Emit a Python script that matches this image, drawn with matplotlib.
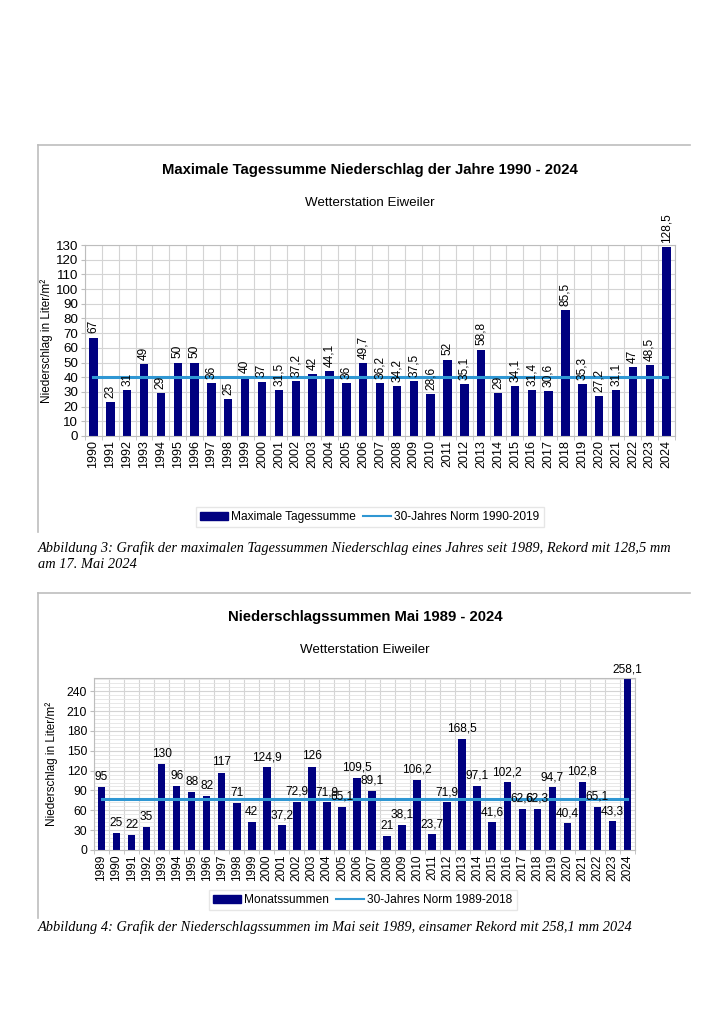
import matplotlib.pyplot as plt
from matplotlib.lines import Line2D
from matplotlib.patches import Patch
from matplotlib.ticker import MultipleLocator

# chart 1: maximum daily sum per year
years_max = list(range(1990, 2025))
max_daily = [67, 23, 31, 49, 29, 50, 50, 36, 25, 40,
             37, 31.5, 37.2, 42, 44.1, 36, 49.7, 36.2, 34.2, 37.5,
             28.6, 52, 35.1, 58.8, 29, 34.1, 31.4, 30.6, 85.5, 35.3,
             27.2, 31.1, 47, 48.5, 128.5]
norm_max = 40.2

# chart 2: May totals
years_may = list(range(1989, 2025))
may_sums = [95, 25, 22, 35, 130, 96, 88, 82, 117, 71,
            42, 124.9, 37.2, 72.9, 126, 71.9, 65.1, 109.5, 89.1, 21,
            38.1, 106.2, 23.7, 71.9, 168.5, 97.1, 41.6, 102.2, 62.6, 62.3,
            94.7, 40.4, 102.8, 65.1, 43.3, 258.1]
norm_may = 77.0

BAR = "#000080"
NORM = "#2f97d3"
GRID = "#d4d4d4"
FRAME = "#bdbdbd"
W, H = 724, 1024

plt.rcParams["font.family"] = ["Liberation Sans", "DejaVu Sans"]


def de(v):
    return f"{v:g}".replace(".", ",")


def fx(px):
    return px / W


def fy(py):
    return 1 - py / H


def add_axes(fig, left, top, right, bottom):
    return fig.add_axes([fx(left), fy(bottom), fx(right - left), (bottom - top) / H])


def style_axes(ax, n, ymax, major, xsize, ysize, labelpad, minor=None):
    ax.set_xlim(-0.5, n - 0.5)
    ax.set_ylim(0, ymax)
    ax.yaxis.set_major_locator(MultipleLocator(major))
    ax.set_xticks([i + 0.5 for i in range(-1, n)], minor=True)
    ax.tick_params(axis="x", which="major", length=0, labelsize=xsize, pad=3)
    ax.tick_params(axis="x", which="minor", length=3, color=FRAME)
    ax.tick_params(axis="y", which="major", length=3, color=FRAME, labelsize=ysize, pad=2)
    ax.grid(True, axis="x", which="minor", color=GRID, lw=0.8)
    ax.grid(True, axis="y", which="major", color=GRID, lw=0.8)
    if minor:
        ax.yaxis.set_minor_locator(MultipleLocator(minor))
        ax.tick_params(axis="y", which="minor", length=0)
        ax.grid(True, axis="y", which="minor", color="#e4e4e4", lw=0.6)
    ax.set_axisbelow(True)
    for s in ax.spines.values():
        s.set_color(FRAME)
        s.set_linewidth(0.8)
    ax.set_ylabel("Niederschlag in Liter/m²", fontsize=8.5, labelpad=labelpad)


def legend(fig, handles, cx, cy):
    fig.legend(handles=handles, loc="center", bbox_to_anchor=(fx(cx), fy(cy)), ncol=2,
               fontsize=8.6, frameon=True, fancybox=False, edgecolor="#e0e0e0",
               handlelength=2.3, handleheight=0.6, columnspacing=0.6,
               handletextpad=0.3, borderpad=0.35)


fig = plt.figure(figsize=(W / 100, H / 100), dpi=100)

# frames around the two charts
for top, bottom in [(145, 532), (593, 918)]:
    fig.add_artist(Line2D([fx(38), fx(690)], [fy(top), fy(top)], color=FRAME, lw=1.2))
    fig.add_artist(Line2D([fx(38), fx(38)], [fy(top), fy(bottom)], color=FRAME, lw=1.2))

# ---- chart 1
ax1 = add_axes(fig, 85, 245, 675, 436)
x1 = list(range(len(years_max)))
ax1.bar(x1, max_daily, width=0.5, color=BAR, zorder=2)
ax1.plot(x1, [norm_max] * len(x1), color=NORM, lw=2.2, zorder=3)
for x, v in zip(x1, max_daily):
    ax1.annotate(de(v), (x, v), xytext=(0, 3), textcoords="offset points",
                 rotation=90, ha="center", va="bottom", fontsize=8.6, zorder=4)
ax1.set_xticks(x1)
ax1.set_xticklabels([str(y) for y in years_max], rotation=90)
style_axes(ax1, len(years_max), 130, 10, xsize=9, ysize=9.6, labelpad=2)

fig.text(fx(370), fy(170), "Maximale Tagessumme Niederschlag der Jahre 1990 - 2024",
         ha="center", va="center", fontsize=10.7, fontweight="bold")
fig.text(fx(370), fy(203), "Wetterstation Eiweiler", ha="center", va="center", fontsize=9.6)
legend(fig, [Patch(color=BAR, label="Maximale Tagessumme"),
             Line2D([], [], color=NORM, lw=1.5, label="30-Jahres Norm 1990-2019")], 370, 517)
fig.text(fx(38), fy(548),
         "Abbildung 3: Grafik der maximalen Tagessummen Niederschlag eines Jahres seit 1989, Rekord mit 128,5 mm",
         ha="left", va="center", fontsize=10.4, style="italic", family="Liberation Serif")
fig.text(fx(38), fy(565), "am 17. Mai 2024",
         ha="left", va="center", fontsize=10.4, style="italic", family="Liberation Serif")

# ---- chart 2
ax2 = add_axes(fig, 94, 678, 635, 850)
x2 = list(range(len(years_may)))
ax2.bar(x2, may_sums, width=0.5, color=BAR, zorder=2)
ax2.plot(x2, [norm_may] * len(x2), color=NORM, lw=2.2, zorder=3)
for x, v in zip(x2, may_sums):
    ax2.annotate(de(v), (x, v), xytext=(0, 3), textcoords="offset points",
                 ha="center", va="bottom", fontsize=8.6, zorder=4)
ax2.set_xticks(x2)
ax2.set_xticklabels([str(y) for y in years_may], rotation=90)
style_axes(ax2, len(years_may), 260, 30, xsize=8.6, ysize=8.8, labelpad=6, minor=6)

fig.text(fx(365), fy(617), "Niederschlagssummen Mai 1989 - 2024",
         ha="center", va="center", fontsize=10.7, fontweight="bold")
fig.text(fx(365), fy(650), "Wetterstation Eiweiler", ha="center", va="center", fontsize=9.6)
legend(fig, [Patch(color=BAR, label="Monatssummen"),
             Line2D([], [], color=NORM, lw=1.5, label="30-Jahres Norm 1989-2018")], 363, 900)
fig.text(fx(38), fy(927),
         "Abbildung 4: Grafik der Niederschlagssummen im Mai seit 1989, einsamer Rekord mit 258,1 mm 2024",
         ha="left", va="center", fontsize=10.4, style="italic", family="Liberation Serif")

fig.savefig("out.png", dpi=100)
